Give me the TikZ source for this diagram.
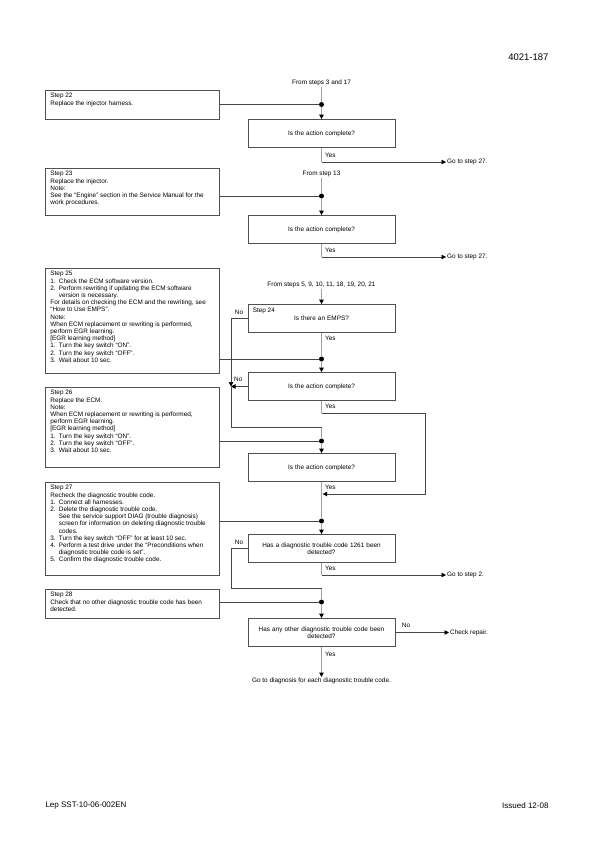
\documentclass[tikz,border=0pt]{standalone}
\usepackage{fontspec}
\setmainfont{Liberation Sans}
\usetikzlibrary{arrows.meta, positioning, calc}
\definecolor{boxgray}{RGB}{80,80,80}
\definecolor{flowgray}{RGB}{160,160,160}
\definecolor{routegray}{RGB}{70,70,70}
\newcommand{\itm}[1]{\makebox[8.5pt][l]{#1}}
\newcommand{\hang}{\hspace*{8.5pt}}
\newcommand{\stepbody}[2]{\parbox[t][#1][t]{164pt}{\raggedright #2}}
\tikzset{
  stepbox/.style={rectangle, draw=boxgray, line width=0.8pt, anchor=north west,
    inner xsep=5pt, inner ysep=3pt, font=\fontsize{6.4}{7.2}\selectfont},
  askbox/.style={rectangle, draw=boxgray, line width=0.8pt,
    minimum width=147pt, minimum height=28pt, text width=140pt, align=center,
    font=\fontsize{6.4}{7.2}\selectfont},
  txt/.style={font=\fontsize{6.4}{7.2}\selectfont, inner sep=1pt},
  junc/.style={circle, fill=black, inner sep=0pt, minimum size=5pt},
  flow/.style={draw=flowgray, line width=1.8pt},
  route/.style={draw=routegray, line width=0.7pt},
  arr/.style={-{Triangle[length=4.5pt, width=4.5pt, black]}}
}

\begin{document}
\begin{tikzpicture}[x=1pt, y=-1pt]
  \useasboundingbox (0,0) rectangle (595,842);

  % Page header and footer
  \node[font=\fontsize{9.5}{11}\selectfont, anchor=east] (pagenum) at (552,57) {4021-187};
  \node[font=\fontsize{8}{9}\selectfont, anchor=west] (docid) at (42,806) {Lep SST-10-06-002EN};
  \node[font=\fontsize{8}{9}\selectfont, anchor=east] (issued) at (552,806) {Issued 12-08};

  % Step boxes (left column)
  \node[stepbox] (s22) at (45,90) {\stepbody{23pt}{Step 22\\Replace the injector harness.}};
  \node[stepbox] (s23) at (45,168) {\stepbody{41pt}{Step 23\\Replace the injector.\\Note:\\See the “Engine” section in the Service Manual for the\\work procedures.}};
  \node[stepbox] (s25) at (45,268) {\stepbody{99pt}{Step 25\\
    \itm{1.}Check the ECM software version.\\
    \itm{2.}Perform rewriting if updating the ECM software\\
    \hang version is necessary.\\
    For details on checking the ECM and the rewriting, see\\
    “How to Use EMPS”.\\
    Note:\\
    When ECM replacement or rewriting is performed,\\
    perform EGR learning.\\{}
    [EGR learning method]\\
    \itm{1.}Turn the key switch “ON”.\\
    \itm{2.}Turn the key switch “OFF”.\\
    \itm{3.}Wait about 10 sec.}};
  \node[stepbox] (s26) at (45,387) {\stepbody{74pt}{Step 26\\
    Replace the ECM.\\
    Note:\\
    When ECM replacement or rewriting is performed,\\
    perform EGR learning.\\{}
    [EGR learning method]\\
    \itm{1.}Turn the key switch “ON”.\\
    \itm{2.}Turn the key switch “OFF”.\\
    \itm{3.}Wait about 10 sec.}};
  \node[stepbox] (s27) at (45,482) {\stepbody{87pt}{Step 27\\
    Recheck the diagnostic trouble code.\\
    \itm{1.}Connect all harnesses.\\
    \itm{2.}Delete the diagnostic trouble code.\\
    \hang See the service support DIAG (trouble diagnosis)\\
    \hang screen for information on deleting diagnostic trouble\\
    \hang codes.\\
    \itm{3.}Turn the key switch “OFF” for at least 10 sec.\\
    \itm{4.}Perform a test drive under the “Preconditions when\\
    \hang diagnostic trouble code is set”.\\
    \itm{5.}Confirm the diagnostic trouble code.}};
  \node[stepbox] (s28) at (45,589) {\stepbody{23pt}{Step 28\\Check that no other diagnostic trouble code has been\\detected.}};

  % Question boxes (main column)
  \node[askbox] (q1) at (321.5,133.5) {Is the action complete?};
  \node[askbox] (q2) at (321.5,229.5) {Is the action complete?};
  \node[askbox] (q24) at (321.5,318.5) {\raisebox{-2.5pt}{Is there an EMPS?}};
  \node[txt, anchor=north west] (s24) at ($(q24.north west)+(4,3)$) {Step 24};
  \node[askbox] (q3) at (321.5,386.5) {Is the action complete?};
  \node[askbox] (q4) at (321.5,467.5) {Is the action complete?};
  \node[askbox] (q5) at (321.5,548.5) {Has a diagnostic trouble code 1261 been\\detected?};
  \node[askbox] (q6) at (321.5,632.5) {Has any other diagnostic trouble code been\\detected?};

  % Entry texts and results
  \node[txt] (from1) at (321.5,83) {From steps 3 and 17};
  \node[txt] (from2) at (321.5,174) {From step 13};
  \node[txt] (from3) at (321.5,285) {From steps 5, 9, 10, 11, 18, 19, 20, 21};
  \node[txt, anchor=west] (goto1) at (446,162) {Go to step 27.};
  \node[txt, anchor=west] (goto2) at (446,257) {Go to step 27.};
  \node[txt, anchor=west] (goto3) at (446,575) {Go to step 2.};
  \node[txt, anchor=west] (repair) at (449,632.5) {Check repair.};
  \node[txt, anchor=north] (diag) at (321.5,677) {Go to diagnosis for each diagnostic trouble code.};

  % Junctions
  \node[junc] (j1) at (321.5,104.5) {};
  \node[junc] (j2) at (321.5,196) {};
  \node[junc] (j3) at (321.5,359) {};
  \node[junc] (j4) at (321.5,441) {};
  \node[junc] (j5) at (321.5,521) {};
  \node[junc] (j6) at (321.5,602) {};

  % Bends
  \coordinate (y1) at (321.5,162);
  \coordinate (y2) at (321.5,257);
  \coordinate (y3) at (321.5,413);
  \coordinate (y3r) at (425,413);
  \coordinate (m3) at (322.6,494);
  \coordinate (n24) at (231,386.5);
  \coordinate (n3) at (231,427);
  \coordinate (m4) at (321.5,427);
  \coordinate (y5) at (321.5,575);
  \coordinate (n5) at (231,588.5);
  \coordinate (m6) at (321.5,588.5);

  % Main flow
  \draw[flow] (from1) -- (j1);
  \draw[flow, arr] (j1) -- (q1.north);
  \draw[flow] (q1.south) -- (y1);
  \draw[route, arr] (y1) -- (goto1.west);
  \draw[flow] (from2) -- (j2);
  \draw[flow, arr] (j2) -- (q2.north);
  \draw[flow] (q2.south) -- (y2);
  \draw[route, arr] (y2) -- (goto2.west);
  \draw[flow, arr] (from3) -- (q24.north);
  \draw[flow] (q24.south) -- (j3);
  \draw[flow, arr] (j3) -- (q3.north);
  \draw[flow] (q3.south) -- (y3);
  \draw[route, arr] (y3) -- (y3r) |- (m3);
  \draw[flow] (m4) -- (j4);
  \draw[flow, arr] (j4) -- (q4.north);
  \draw[flow] (q4.south) -- (j5);
  \draw[flow, arr] (j5) -- (q5.north);
  \draw[flow] (q5.south) -- (y5);
  \draw[route, arr] (y5) -- (goto3.west);
  \draw[flow] (m6) -- (j6);
  \draw[flow, arr] (j6) -- (q6.north);
  \draw[route, arr] (q6.east) -- (repair.west);
  \draw[flow, arr] (q6.south) -- (diag.north);

  % No routes
  \draw[route, arr] (q24.west) -| (n24);
  \draw[route, arr] (q3.west) -- (n24);
  \draw[route] (n24) -- (n3) -- (m4);
  \draw[route] (q5.west) -| (n5) -- (m6);

  % Step lines into junctions
  \draw[route] (s22.east |- j1) -- (j1);
  \draw[route] (s23.east |- j2) -- (j2);
  \draw[route] (s25.east |- j3) -- (j3);
  \draw[route] (s26.east |- j4) -- (j4);
  \draw[route] (s27.east |- j5) -- (j5);
  \draw[route] (s28.east |- j6) -- (j6);

  % Yes / No labels
  \node[txt, anchor=west] (yes1) at (324,155) {Yes};
  \node[txt, anchor=west] (yes2) at (324,250.5) {Yes};
  \node[txt, anchor=west] (yes24) at (324,338.5) {Yes};
  \node[txt, anchor=west] (yes3) at (324,406.5) {Yes};
  \node[txt, anchor=west] (yes4) at (324,487.5) {Yes};
  \node[txt, anchor=west] (yes5) at (324,568.5) {Yes};
  \node[txt, anchor=west] (yes6) at (324,654) {Yes};
  \node[txt] (no24) at (239,312) {No};
  \node[txt, anchor=west] (no3) at (233,379) {No};
  \node[txt] (no5) at (239,542) {No};
  \node[txt] (no6) at (406,625) {No};
\end{tikzpicture}
\end{document}
